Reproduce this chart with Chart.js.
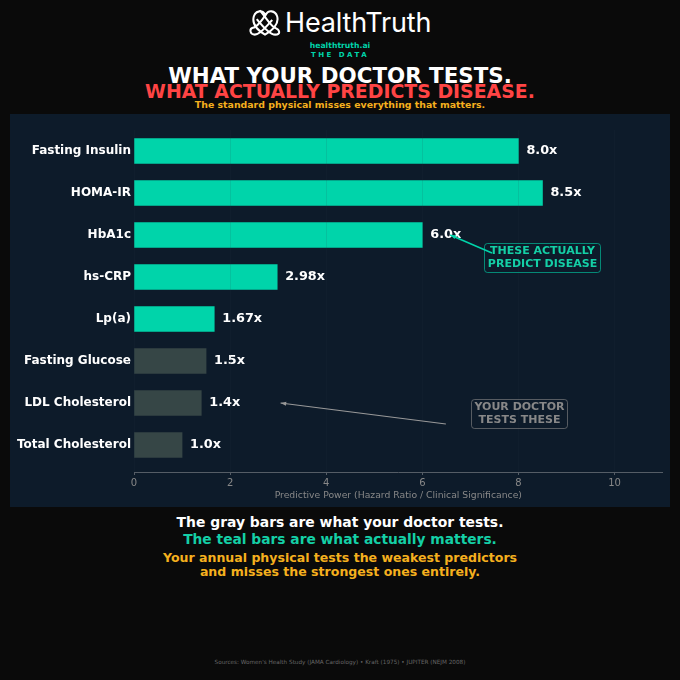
<!DOCTYPE html>
<html>
<head>
<meta charset="utf-8">
<title>HealthTruth - The Data</title>
<script src="https://cdn.jsdelivr.net/npm/chart.js@4"></script>
<style>
html, body { margin: 0; padding: 0; background: #0a0a0a; }
#page { position: relative; width: 680px; height: 680px; overflow: hidden; background: #0a0a0a; font-family: "DejaVu Sans", sans-serif; }
#panel { position: absolute; left: 10px; top: 114px; width: 660px; height: 393px; background: #0d1b2a; }
.line { position: absolute; left: 0; width: 680px; text-align: center; white-space: nowrap; font-weight: bold; transform: translateY(-50%); }
#logoText { position: absolute; left: 285px; top: 5px; font-family: Inter, sans-serif; font-weight: 400; font-size: 27px; line-height: 36px; color: #fff; letter-spacing: -0.15px; }
#logo { position: absolute; left: 249px; top: 8px; }
</style>
</head>
<body>
<div id="page">
    <svg id="logo" width="32" height="30" viewBox="0 0 33 30" fill="none" stroke="#fff" stroke-width="2.1">
        <path d="M16.5 27 C8 22 3 15 5 8 C7 2 14 1 17 7 C20 1 27 2 29 8 C31 15 25 22 16.5 27 Z"/>
        <path d="M17 7 C13 12 9 19 4 20 C0 21 1 27 6 27 C12 27 19 17 24 12"/>
        <path d="M11 2 C16 7 22 18 27 20 C32 22 33 27 27 27 C21 27 12 16 8 11"/>
    </svg>
    <div id="logoText">HealthTruth</div>
    <div class="line" style="top:45px;font-size:7.7px;color:#00d4aa">healthtruth.ai</div>
    <div class="line" style="top:55px;font-size:7px;color:#00d4aa;letter-spacing:2.5px">THE DATA</div>
    <div class="line" style="top:74.5px;font-size:21.4px;color:#fff">WHAT YOUR DOCTOR TESTS.</div>
    <div class="line" style="top:90.5px;font-size:18.9px;color:#ff4444">WHAT ACTUALLY PREDICTS DISEASE.</div>
    <div class="line" style="top:103.5px;font-size:9.4px;color:#f5b01e">The standard physical misses everything that matters.</div>
    <div id="panel"><canvas id="chart" width="660" height="393"></canvas></div>
    <div class="line" style="top:522px;font-size:13.9px;color:#fff">The gray bars are what your doctor tests.</div>
    <div class="line" style="top:539px;font-size:13.8px;color:#14cfa6">The teal bars are what actually matters.</div>
    <div class="line" style="top:557px;font-size:12.55px;color:#f5b01e">Your annual physical tests the weakest predictors</div>
    <div class="line" style="top:571px;font-size:12.55px;color:#f5b01e">and misses the strongest ones entirely.</div>
    <div class="line" style="top:662px;font-size:5.7px;font-weight:normal;color:#666">Sources: Women's Health Study (JAMA Cardiology) • Kraft (1975) • JUPITER (NEJM 2008)</div>
</div>
<script>
// Donnees
const categories = ['Fasting Insulin', 'HOMA-IR', 'HbA1c', 'hs-CRP', 'Lp(a)', 'Fasting Glucose', 'LDL Cholesterol', 'Total Cholesterol'];
const hazardRatios = [8.0, 8.5, 6.0, 2.98, 1.67, 1.5, 1.4, 1.0];
const valueLabels = ['8.0x', '8.5x', '6.0x', '2.98x', '1.67x', '1.5x', '1.4x', '1.0x'];
const doctorTests = ['Fasting Glucose', 'LDL Cholesterol', 'Total Cholesterol'];
const xTicks = [0, 2, 4, 6, 8, 10];
const xTitle = 'Predictive Power (Hazard Ratio / Clinical Significance)';

const TEAL = '#00d4aa';
const GRAY = '#364646';
const TEXT_GRAY = '#888888';

// Etiquettes de valeur au bout des barres
const valueLabelPlugin = {
    id: 'valueLabels',
    afterDatasetsDraw (chart) {
        const { ctx, scales } = chart;
        ctx.save();
        ctx.font = 'bold 12.8px "DejaVu Sans"';
        ctx.fillStyle = '#fff';
        ctx.textBaseline = 'middle';
        hazardRatios.forEach((val, i) => {
            ctx.fillText(valueLabels[i], scales.x.getPixelForValue(val) + 8, scales.y.getPixelForValue(i));
        });
        ctx.restore();
    }
};

// Fleche et encadre, la fleche est placee en coordonnees de donnees
function drawCallout (chart, note) {
    const { ctx, scales } = chart;
    const x0 = scales.x.getPixelForValue(note.from[0]);
    const y0 = scales.y.getPixelForValue(note.from[1]);
    const x1 = scales.x.getPixelForValue(note.to[0]);
    const y1 = scales.y.getPixelForValue(note.to[1]);
    const angle = Math.atan2(y1 - y0, x1 - x0);
    ctx.save();
    ctx.strokeStyle = note.arrow;
    ctx.fillStyle = note.arrow;
    ctx.lineWidth = note.width;
    ctx.beginPath();
    ctx.moveTo(x0, y0);
    ctx.lineTo(x1, y1);
    ctx.stroke();
    ctx.beginPath();
    ctx.moveTo(x1, y1);
    ctx.lineTo(x1 - 6 * Math.cos(angle - 0.35), y1 - 6 * Math.sin(angle - 0.35));
    ctx.lineTo(x1 - 6 * Math.cos(angle + 0.35), y1 - 6 * Math.sin(angle + 0.35));
    ctx.closePath();
    ctx.fill();
    ctx.strokeStyle = note.border;
    ctx.lineWidth = 1;
    ctx.beginPath();
    ctx.roundRect(note.box[0], note.box[1], note.box[2], note.box[3], 3);
    ctx.stroke();
    ctx.fillStyle = note.color;
    ctx.font = 'bold 11px "DejaVu Sans"';
    ctx.textAlign = 'center';
    ctx.textBaseline = 'middle';
    const cx = note.box[0] + note.box[2] / 2;
    const cy = note.box[1] + note.box[3] / 2;
    ctx.fillText(note.lines[0], cx, cy - 6.5);
    ctx.fillText(note.lines[1], cx, cy + 6.5);
    ctx.restore();
}

const calloutPlugin = {
    id: 'callouts',
    afterDraw (chart) {
        drawCallout(chart, {
            from: [7.45, 2.43], to: [6.58, 2], width: 1.5,
            arrow: TEAL, border: 'rgba(0,212,170,0.6)', color: '#14cfa6',
            box: [474.5, 129.5, 116, 29], lines: ['THESE ACTUALLY', 'PREDICT DISEASE']
        });
        drawCallout(chart, {
            from: [6.49, 6.5], to: [3.05, 6], width: 1.2,
            arrow: '#999999', border: 'rgba(136,136,136,0.6)', color: TEXT_GRAY,
            box: [461.5, 285.5, 96, 29], lines: ['YOUR DOCTOR', 'TESTS THESE']
        });
    }
};

new Chart(document.getElementById('chart'), {
    type: 'bar',
    data: {
        datasets: [{
            data: hazardRatios.map((val, i) => ({ x: val, y: i })),
            backgroundColor: (c) => doctorTests.includes(categories[c.dataIndex]) ? GRAY : TEAL,
            borderWidth: 0,
            barThickness: 25
        }]
    },
    options: {
        indexAxis: 'y',
        responsive: false,
        animation: false,
        layout: { padding: { top: 16, right: 7.4, bottom: 0, left: 0 } },
        plugins: { legend: { display: false }, tooltip: { enabled: false } },
        scales: {
            x: {
                type: 'linear',
                min: 0,
                max: 11,
                afterBuildTicks: (axis) => { axis.ticks = xTicks.map((value) => ({ value })); },
                afterFit: (axis) => { axis.height = 35; },
                grid: { color: 'rgba(40,60,70,0.12)', z: 1, drawTicks: true, tickColor: '#555d66', tickLength: 3 },
                // z au-dessus de la grille, sinon la ligne d'axe part en haut du canvas
                border: { color: '#555d66', width: 1, z: 2 },
                ticks: { color: TEXT_GRAY, font: { size: 10, family: '"DejaVu Sans"' }, maxRotation: 0, padding: 2 },
                title: { display: true, text: xTitle, color: TEXT_GRAY, font: { size: 9.25, family: '"DejaVu Sans"' }, padding: { top: 1, bottom: 6 } }
            },
            y: {
                type: 'linear',
                reverse: true,
                offset: false,
                min: -0.5,
                max: 7.643,
                afterBuildTicks: (axis) => { axis.ticks = categories.map((name, i) => ({ value: i })); },
                afterFit: (axis) => { axis.width = 124; },
                grid: { display: false, drawTicks: false, offset: false },
                border: { display: false },
                ticks: {
                    color: '#fff',
                    padding: 3,
                    font: { size: 12, weight: 'bold', family: '"DejaVu Sans"' },
                    callback: (value) => categories[value]
                }
            }
        }
    },
    plugins: [valueLabelPlugin, calloutPlugin]
});
</script>
</body>
</html>
